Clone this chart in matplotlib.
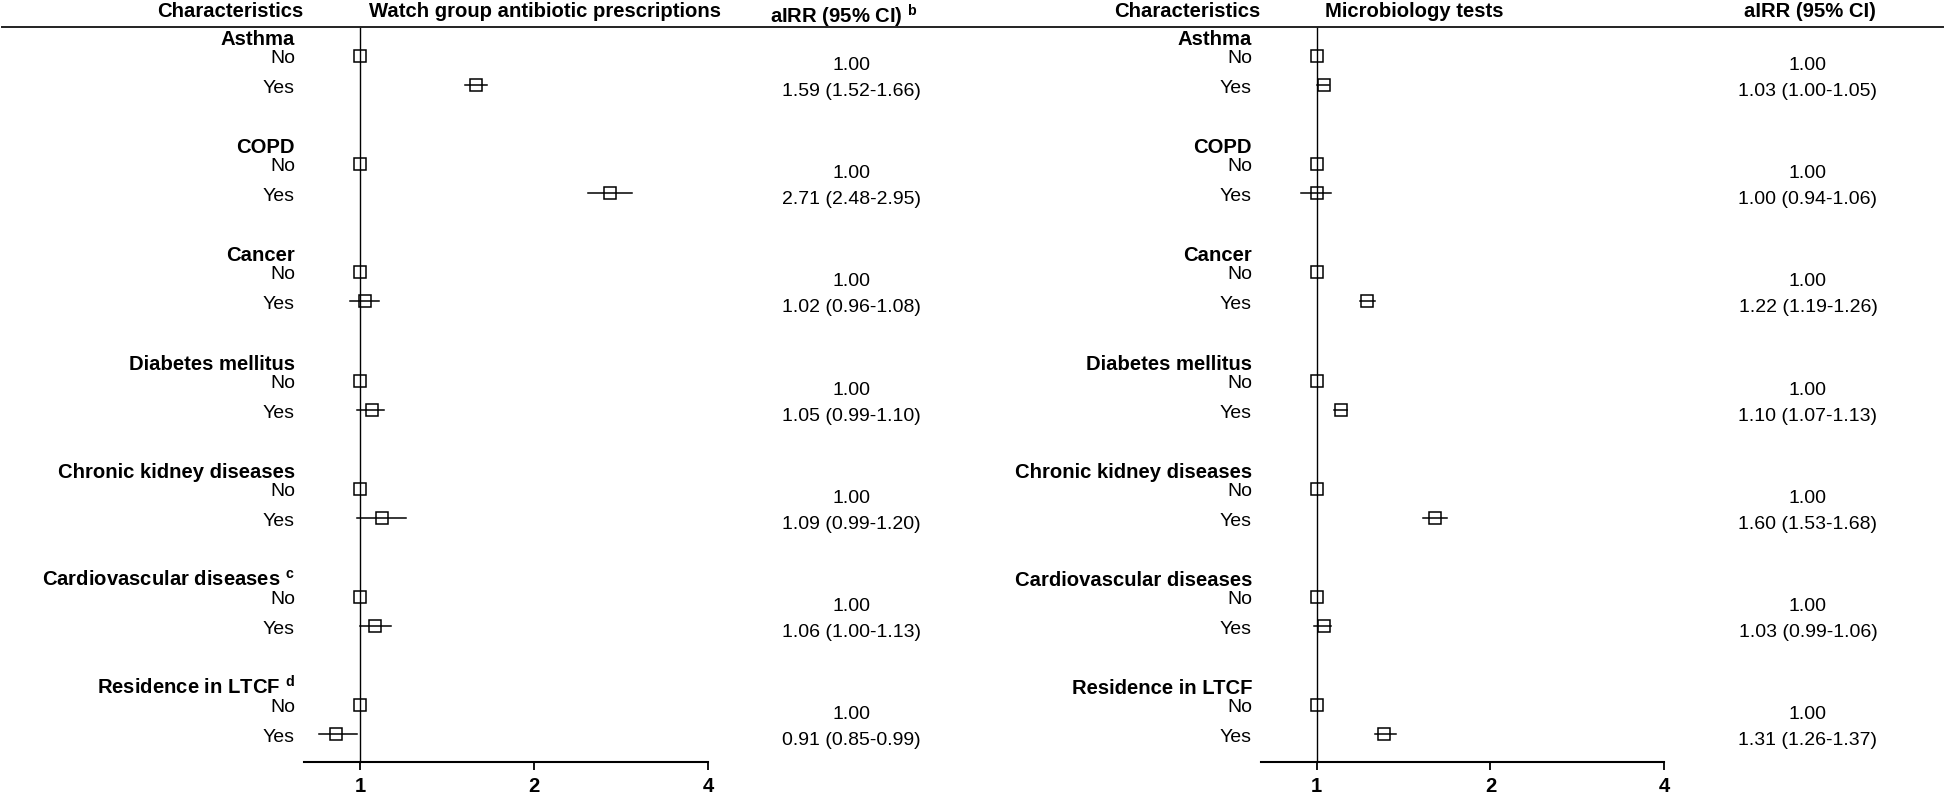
import matplotlib
matplotlib.use("Agg")
import matplotlib.pyplot as plt
from matplotlib.lines import Line2D
from matplotlib.transforms import blended_transform_factory

plt.rcParams['font.family'] = ['Liberation Sans', 'DejaVu Sans']
plt.rcParams['mathtext.fontset'] = 'custom'
plt.rcParams['mathtext.rm'] = 'Liberation Sans'
plt.rcParams['mathtext.bf'] = 'Liberation Sans:bold'

# ---------------- data ----------------
categories = ["Asthma", "COPD", "Cancer", "Diabetes mellitus",
              "Chronic kidney diseases", "Cardiovascular diseases", "Residence in LTCF"]
left_superscripts = ["", "", "", "", "", "c", "d"]
levels = ["No", "Yes"]

watch_irr = [1.59, 2.71, 1.02, 1.05, 1.09, 1.06, 0.91]
watch_lo = [1.52, 2.48, 0.96, 0.99, 0.99, 1.00, 0.85]
watch_hi = [1.66, 2.95, 1.08, 1.10, 1.20, 1.13, 0.99]

micro_irr = [1.03, 1.00, 1.22, 1.10, 1.60, 1.03, 1.31]
micro_lo = [1.00, 0.94, 1.19, 1.07, 1.53, 0.99, 1.26]
micro_hi = [1.05, 1.06, 1.26, 1.13, 1.68, 1.06, 1.37]

reference_value = 1.00
x_ticks = [1, 2, 4]
x_tick_labels = ["1", "2", "4"]

left_title = "Watch group antibiotic prescriptions"
right_title = "Microbiology tests"
char_header = "Characteristics"
airr_header = "aIRR (95% CI)"

# ---------------- layout ----------------
W, H = 1946, 799
fig = plt.figure(figsize=(W / 100, H / 100), dpi=100)
top_px, bot_px = 27, 762
FS = 14
FSB = 14.6


def add_panel(x0_px, x1_px):
    ax = fig.add_axes([x0_px / W, 1 - bot_px / H, (x1_px - x0_px) / W, (bot_px - top_px) / H])
    ax.set_xscale('log', base=2)
    ax.set_xlim(0.8, 4)
    ax.set_ylim(bot_px, top_px)
    for s in ['top', 'right', 'left']:
        ax.spines[s].set_visible(False)
    ax.spines['bottom'].set_linewidth(1.5)
    ax.set_yticks([])
    ax.set_xticks(x_ticks)
    ax.set_xticklabels(x_tick_labels, fontsize=FSB, fontweight='bold')
    ax.xaxis.set_minor_locator(matplotlib.ticker.NullLocator())
    ax.tick_params(axis='x', direction='out', length=6, width=1.3, pad=5)
    ax.axvline(reference_value, color='black', lw=1.0, zorder=1)
    ax.patch.set_alpha(0)
    return ax


axL = add_panel(304, 708)
axR = add_panel(1261, 1664)

# header line across the figure
fig.add_artist(Line2D([2 / W, 1943 / W], [1 - top_px / H] * 2, transform=fig.transFigure,
                      color='#222222', lw=1.4))

ty = blended_transform_factory(fig.transFigure, axL.transData)

row0, group_step, yes_step = 56, 108.2, 29


def fmt(v, lo, hi):
    return f"{v:.2f} ({lo:.2f}-{hi:.2f})"


panels = [
    (axL, left_title, watch_irr, watch_lo, watch_hi, 295, 303, 369, 851, left_superscripts),
    (axR, right_title, micro_irr, micro_lo, micro_hi, 1252, 1260, 1325, 1808, [""] * len(categories)),
]

for ax, title, irr, lo, hi, lab_x, chr_x, title_x, val_x, sups in panels:
    # headers
    ax.text(chr_x / W, 17, char_header, transform=ty, ha='right', va='baseline',
            fontsize=FSB, fontweight='bold', clip_on=False)
    ax.text(title_x / W, 17, title, transform=ty,
            ha='left', va='baseline', fontsize=FSB, fontweight='bold', clip_on=False)
    for g, cat in enumerate(categories):
        y_no = row0 + group_step * g
        y_yes = y_no + yes_step
        head = cat if not sups[g] else cat + r" $^{\mathbf{" + sups[g] + "}}$"
        ax.text(lab_x / W, y_no - 11, head, transform=ty, ha='right', va='baseline',
                fontsize=FSB, fontweight='bold', clip_on=False)
        ax.text(lab_x / W, y_no + 7, levels[0], transform=ty, ha='right', va='baseline',
                fontsize=FS, clip_on=False)
        ax.text(lab_x / W, y_yes + 8, levels[1], transform=ty, ha='right', va='baseline',
                fontsize=FS, clip_on=False)
        # markers
        ax.plot([reference_value], [y_no], marker='s', ms=9, mfc='none', mec='black',
                mew=1.1, ls='none', clip_on=False, zorder=3)
        ax.plot([lo[g], hi[g]], [y_yes, y_yes], color='black', lw=1.1, clip_on=False, zorder=2)
        ax.plot([irr[g]], [y_yes], marker='s', ms=9, mfc='none', mec='black',
                mew=1.1, ls='none', clip_on=False, zorder=3)
        # values
        ax.text(val_x / W, y_no + 14, f"{reference_value:.2f}", transform=ty, ha='center',
                va='baseline', fontsize=FS, clip_on=False)
        ax.text(val_x / W, y_yes + 11, fmt(irr[g], lo[g], hi[g]), transform=ty, ha='center',
                va='baseline', fontsize=FS, clip_on=False)

# aIRR headers
axL.text(770 / W, 24, airr_header + r" $^{\mathbf{b}}$", transform=ty, ha='left', va='baseline',
         fontsize=FSB, fontweight='bold', clip_on=False)
axR.text(1810 / W, 17, airr_header, transform=ty, ha='center', va='baseline',
         fontsize=FSB, fontweight='bold', clip_on=False)

fig.savefig("out.png", dpi=100, facecolor='white')
